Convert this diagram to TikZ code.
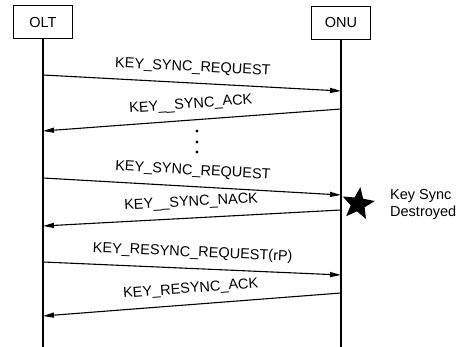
\documentclass[tikz,border=0pt]{standalone}
\usepackage{fontspec}
\setmainfont{Liberation Sans}
\usetikzlibrary{arrows.meta,shapes.geometric}

\begin{document}
\begin{tikzpicture}[x=1pt,y=-1pt,font=\fontsize{14.5}{17}\selectfont,
  entity/.style={draw,line width=1pt,minimum width=59pt,minimum height=33pt},
  lifeline/.style={line width=1.3pt},
  msg/.style={-{Triangle[length=11pt,width=5pt]},line width=1.1pt},
  lbl/.style={midway,sloped,above=5pt}]
\useasboundingbox (0,0) rectangle (467,347);
% the two entities and their time lines
\node[entity] (olt) at (43,22.5) {OLT};
\node[entity] (onu) at (341,23) {ONU};
\coordinate (oltend) at (43,347);
\coordinate (onuend) at (341,347);
\draw[lifeline] (olt) -- (oltend);
\draw[lifeline] (onu) -- (onuend);
% end points of the messages
\coordinate (o1) at (43,75);  \coordinate (n1) at (341,91);
\coordinate (n2) at (341,109); \coordinate (o2) at (43,131);
\coordinate (o3) at (43,178); \coordinate (n3) at (341,195);
\coordinate (n4) at (341,210); \coordinate (o4) at (43,226);
\coordinate (o5) at (43,262); \coordinate (n5) at (341,275);
\coordinate (n6) at (341,293); \coordinate (o6) at (43,316);
\draw[msg] (o1) -- (n1) node[lbl] {KEY\_SYNC\_REQUEST};
\draw[msg] (n2) -- (o2) node[lbl] {KEY\_\_SYNC\_ACK};
\foreach \y in {131,142,152}
  \fill (197,\y) circle (1.7);
\draw[msg] (o3) -- (n3) node[lbl] {KEY\_SYNC\_REQUEST};
\draw[msg] (n4) -- (o4) node[lbl] {KEY\_\_SYNC\_NACK};
\draw[msg] (o5) -- (n5) node[lbl] {KEY\_RESYNC\_REQUEST(rP)};
\draw[msg] (n6) -- (o6) node[lbl] {KEY\_RESYNC\_ACK};
% lost key sync
\node[star,star points=5,star point ratio=2.3,fill,minimum size=34pt,inner sep=0pt,rotate=-8] (lost) at (358,204) {};
\node[align=left,anchor=west,inner sep=0pt] (lostlbl) at (390,204) {Key Sync\\Destroyed};
\end{tikzpicture}
\end{document}
